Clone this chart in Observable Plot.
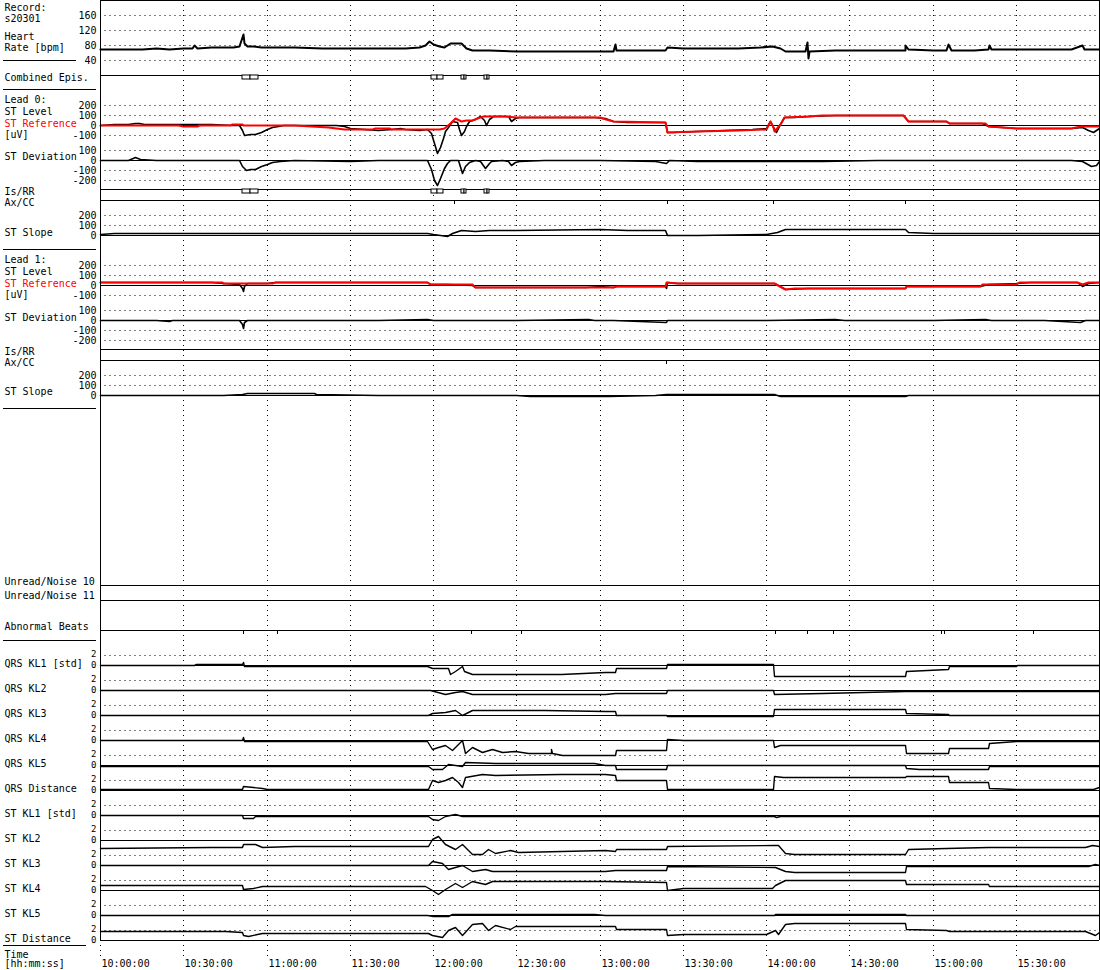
<!DOCTYPE html>
<html><head><meta charset="utf-8">
<script src="https://cdn.jsdelivr.net/npm/d3@7"></script>
<script src="https://cdn.jsdelivr.net/npm/@observablehq/plot@0.6"></script>
<style>
html,body{margin:0;padding:0;background:#fff;}
#chart{position:relative;width:1100px;height:970px;overflow:hidden;background:#fff;}
.sep{position:absolute;height:1px;background:#000;}
</style></head><body><div id="chart"></div>
<script>
// ---------------- DATA (minutes after 10:00:00, value) ----------------
const timeTicks = [0,30,60,90,120,150,180,210,240,270,300,330];
const timeLabels = ["10:00:00","10:30:00","11:00:00","11:30:00","12:00:00","12:30:00","13:00:00","13:30:00","14:00:00","14:30:00","15:00:00","15:30:00"];

const hr = [[0,70],[5,69],[10,70],[15,70],[20,71],[25,70],[30,71],[33,72],[34,80],[35,72],[40,73],[45,74],[48,73],[50,76],[51.4,109],[52,85],[53,78],[55,76],[58,74],[62,73],[70,73],[80,72],[90,71],[100,72],[110,72],[115,74],[117,80],[118.5,90],[120,82],[122,78],[124,75],[126,86],[128,86],[130,84],[132,72],[134,66],[140,65],[150,64],[160,64],[170,64],[180,63],[185,64],[185.6,82],[186,66],[195,65],[203.5,65],[204.2,73],[210,71],[220,71],[230,71],[238,73],[242,78],[245,72],[247,64],[254,64],[254.8,88],[255,44],[255.5,64],[265,65],[275,65],[285,66],[290,66],[290.2,80],[291,68],[300,67],[305,67],[305.7,83],[306.5,66],[315,67],[320,68],[320.2,79],[321,68],[330,69],[340,69],[350,69],[353.7,79],[354.5,70],[360,70]];

const stLevel0 = [[0,5],[5,8],[10,15],[12.5,25],[14,20],[16,10],[20,12],[30,10],[40,8],[48,5],[50,0],[51.3,-50],[52,-95],[54,-85],[56,-90],[58,-70],[60,-40],[62,-20],[64,-10],[66,0],[75,0],[85,0],[88,-10],[90,-25],[95,-40],[100,-45],[105,-40],[108,-25],[110,-35],[115,-45],[118,-40],[119.3,-80],[120.5,-180],[121.5,-275],[122.5,-220],[123.5,-130],[124.5,-60],[125.5,-20],[127,40],[128.5,30],[129.5,-40],[130.2,-100],[131,-60],[132,-10],[133,40],[135,60],[137,90],[138.5,50],[139.2,0],[140,60],[141.5,90],[143,95],[147,95],[148.2,45],[149.5,70],[151,85],[160,85],[170,80],[178,78],[182,70],[185,40],[190,35],[200,35],[203.5,35],[204.2,-70],[206,-65],[215,-60],[225,-50],[235,-40],[240,-30],[241.5,45],[242.5,-20],[243.5,-70],[245,10],[246.5,85],[250,85],[255,95],[265,97],[280,97],[289.5,97],[291,45],[300,38],[305,38],[306,20],[318,18],[320,-5],[330,-25],[350,-25],[354,-15],[356,-50],[358,-70],[360,-30]];
const stRef0 = [[0,0],[28,0],[30,-8],[35,-8],[35.5,0],[47,0],[47.5,10],[51,10],[51.5,0],[70,0],[76,-5],[82,-20],[88,-35],[98,-40],[99,-25],[104,-25],[105,-40],[119,-40],[122,-40],[124,-30],[126,20],[128,68],[130,45],[132,55],[134,55],[136,70],[138,90],[142,95],[146,95],[150,80],[180,80],[181,70],[185,38],[203.5,33],[204.2,-68],[215,-60],[230,-45],[240,-35],[241.5,45],[242.5,-20],[243,-60],[245,10],[246.5,83],[255,90],[260,97],[289.5,97],[291,42],[305,38],[306,20],[319,18],[320,-8],[330,-25],[350,-25],[353,-5],[360,-5]];
const stDev0 = [[0,0],[10,0],[12.5,30],[14.5,10],[20,5],[40,0],[50,0],[51.3,-60],[52.5,-98],[54,-90],[56,-85],[58,-55],[60,-40],[62,-20],[65,-5],[70,0],[90,-5],[100,0],[110,0],[118,0],[119.3,-90],[120.5,-200],[121.5,-245],[122.5,-180],[124,-80],[125,-30],[126,0],[129,0],[130.3,-133],[131.5,-60],[133,-20],[135,0],[137,-5],[138.8,-80],[140,-30],[141,-10],[145,0],[147,-10],[148.2,-45],[149.5,-20],[151,-5],[160,0],[180,0],[200,-5],[204,-25],[205,0],[215,-10],[240,-5],[250,-10],[260,-5],[280,0],[300,0],[340,0],[350,0],[354,-5],[357,-60],[359,-45],[360,-10]];
const stSlope0 = [[0,10],[5,20],[60,20],[100,20],[118,20],[120,10],[125,-5],[127,20],[130,50],[135,45],[140,50],[150,55],[180,60],[190,55],[203.5,55],[204.2,5],[215,5],[240,10],[244,35],[247,65],[290,65],[291,30],[300,20],[360,20]];

const stLevel1 = [[0,35],[10,33],[20,35],[30,28],[40,30],[44.5,18],[50,15],[51,-30],[51.5,-63],[52,-10],[53,18],[60,20],[63,35],[70,32],[80,30],[90,25],[100,30],[110,30],[118,35],[119,15],[125,15],[134,5],[135,-15],[150,-18],[160,-15],[170,-20],[175,-15],[180,-5],[185,-15],[186,-5],[200,-5],[203.5,-10],[203.8,-25],[204.2,35],[208,22],[220,22],[230,18],[240,18],[243,20],[247,-35],[255,-30],[260,-25],[270,-28],[280,-30],[290,-30],[290.5,-5],[300,-5],[317,-5],[320,10],[330,22],[335,28],[345,25],[352,25],[354,-10],[356,20],[360,25]];
const stRef1 = [[0,27],[44,27],[44.5,17],[62,17],[63,30],[118,30],[119,10],[134,10],[135,-20],[185,-20],[186,-7],[203.5,-7],[204,33],[208,20],[243,20],[247,-35],[250,-30],[290,-30],[290.5,-7],[317,-7],[318,10],[330,15],[331,27],[352,27],[354,10],[356,27],[360,27]];
const stDev1 = [[0,5],[20,5],[25,-10],[26,5],[40,0],[50,0],[51,-40],[51.5,-77],[52,-20],[53,0],[60,5],[100,3],[118,10],[120,0],[150,0],[176,15],[178,0],[185,0],[203.8,-15],[204.5,0],[240,0],[265,15],[268,0],[300,0],[319,12],[321,0],[340,0],[353,-20],[355,0],[360,0]];
const stSlope1 = [[0,5],[44.5,5],[51,10],[53,20],[77,20],[78,8],[100,5],[150,0],[155,-7],[183,-7],[200,-3],[204,10],[243,10],[245,-7],[290,-7],[291,3],[360,5]];

const qrsKL1 = [[0,0],[34,0],[34.5,0.2],[51,0.2],[51.5,0.6],[52,-0.2],[118,-0.2],[119.5,-0.5],[125.5,-0.5],[126.1,-1.7],[127.9,-1.2],[130.3,-0.3],[131,-1.2],[133.9,-1.8],[142.3,-1.7],[166,-1.7],[182,-1.3],[185.6,-1.3],[186,-0.5],[204,-0.5],[204.3,0.2],[242.6,0.2],[242.9,-2.2],[290,-2.2],[290.3,-1.1],[305.5,-0.8],[305.8,-0.3],[330,-0.3],[330.5,0],[360,0]];
const qrsKL2 = [[0,0],[119,0],[124.3,-0.7],[128,-0.4],[130.3,-0.3],[133.9,-0.7],[182,-0.7],[185.6,-0.5],[204,-0.5],[204.3,0],[242.6,0],[242.9,-0.7],[260,-0.5],[290,-0.3],[290.3,-0.1],[360,-0.1]];
const qrsKL3 = [[0,0],[118.3,0],[119.5,0.5],[124.3,0.6],[127.9,1.0],[130.3,0.1],[133.9,1.0],[160,1.0],[182,0.8],[185.6,0.8],[186,0.1],[204,0.1],[204.3,-0.1],[242.6,-0.1],[242.9,1.3],[290,1.3],[290.3,0.4],[305.7,0.3],[306,0.1],[330,0.1],[331,0],[360,0]];
const qrsKL4 = [[0,0],[51,0],[51.5,0.7],[52,-0.3],[118,-0.3],[119.5,-1.7],[121.9,-1.3],[124.3,-1.0],[126.7,-2.0],[129.1,-0.7],[130.3,0],[131.5,-2.7],[133.9,-1.3],[137.5,-2.3],[141.1,-1.8],[144.7,-2.4],[149.5,-2.2],[154.3,-2.7],[162.5,-2.7],[162.7,-1.7],[163,-2.7],[166.4,-2.9],[185.6,-2.9],[186,-2.0],[204,-2.0],[204.3,0.3],[210,0.1],[242.6,0],[242.9,-1.3],[245,-1.0],[290,-1.0],[290.3,-2.7],[305.5,-2.7],[305.8,-1.5],[320,-1.5],[320.3,-0.5],[330,-0.2],[360,-0.2]];
const qrsKL5 = [[0,-0.1],[118.3,-0.1],[119.5,-0.8],[123.1,-0.8],[125.5,0.3],[130.3,-0.3],[131.5,0.7],[142.3,0.5],[178,0.5],[182,0.1],[185.6,0.1],[186,-0.8],[204,-0.8],[204.3,0],[290,0],[290.3,-0.5],[295,-0.7],[320,-0.7],[320.3,-0.1],[360,-0.1]];
const qrsDist = [[0,0.3],[51,0.3],[51.7,0.9],[58.3,0.5],[60,0.3],[118.3,0.3],[119.5,2.0],[121.9,1.7],[124.3,2.0],[126.7,2.7],[129.1,1.7],[130.3,0.7],[131.5,2.7],[137.5,3.3],[142.3,3.1],[166,3.2],[182,3.3],[185.6,3.0],[186,2.0],[204,2.0],[204.3,0.3],[242.6,0.3],[242.9,2.8],[246,2.7],[290,2.7],[290.3,2.9],[305.5,2.9],[305.8,1.7],[320,1.7],[320.3,0.5],[330,0.2],[358,0.2],[360,0.6]];
const stKL1 = [[0,0],[51,0],[51.5,-0.5],[55,-0.5],[56,-0.1],[118.3,-0.1],[119.5,-0.7],[121.9,-1.0],[124.3,-0.3],[127.9,0.2],[130.3,-0.1],[243,-0.1],[243.5,-0.4],[245,-0.1],[360,-0.1]];
const stKL2 = [[0,-1.5],[40,-1.4],[51,-1.3],[51.7,-0.7],[55.9,-0.8],[58.3,-1.3],[70,-1.2],[118.3,-1.2],[119.5,0.3],[121.9,0.9],[124.3,-0.7],[127.9,-1.8],[130.3,-0.8],[133.9,-2.7],[137.5,-2.7],[139.9,-1.7],[142.3,-2.5],[147.7,-2.0],[150.7,-2.3],[182,-2.1],[185.6,-2.2],[186,-1.7],[204,-1.7],[204.3,-1.1],[243,-1.0],[244.4,-1.0],[246.8,-2.5],[250,-2.7],[290,-2.7],[291,-1.8],[305,-1.6],[320,-1.4],[355,-1.3],[357.3,-0.9],[360,-1.1]];
const stKL3 = [[0,0],[51,0],[51.7,0.1],[58,0.1],[60,0],[118.3,0],[119.5,0.8],[123.1,0.5],[125.5,-0.7],[130.3,0.1],[133.9,-1.1],[138.7,-0.7],[141.1,-1.1],[182,-1.1],[185.6,-0.9],[204,-0.9],[204.3,-0.2],[243.2,-0.4],[246.8,-1.2],[250,-1.3],[290,-1.3],[290.3,-0.2],[356,-0.2],[358.4,0.2],[360,0.1]];
const stKL4 = [[0,1.0],[51,1.0],[51.7,0.3],[55,0.4],[58.3,0.8],[117.1,0.8],[119.5,0],[121.9,-0.7],[124.3,0.3],[127.9,1.5],[130.3,0.7],[133.9,1.8],[138.7,1.3],[141.1,1.9],[182,1.8],[204,1.7],[204.3,0.1],[210,0.5],[242,0.5],[243.2,1.1],[246.8,2.0],[290,2.0],[290.3,1.3],[320,1.3],[320.3,0.8],[360,0.8]];
const stKL5 = [[0,0],[118,0],[120,-0.1],[125.5,-0.1],[126.7,0.2],[178,0.2],[182,0],[242.8,0],[243.2,0.3],[290,0.3],[290.3,0],[360,0]];
const stDist = [[0,1.8],[20,1.8],[30,1.9],[45,1.8],[51,1.6],[51.7,1.0],[53.5,0.9],[58.3,1.5],[80,1.5],[100,1.4],[118.3,1.5],[119.5,1.0],[123.1,0.7],[125.5,2.0],[127.9,2.7],[130.3,1.0],[133.9,3.3],[137.5,3.4],[139.9,2.0],[142.3,3.0],[147.7,2.3],[149.5,2.9],[182,2.9],[185.6,2.8],[186,2.2],[204,2.2],[204.3,1.0],[210,1.3],[240,1.3],[243.2,2.0],[244.4,1.3],[246.8,3.3],[250,3.5],[290,3.5],[290.3,2.3],[305,2.1],[306,1.8],[355,1.8],[358.4,1.1],[360,1.7]];

// episodes: [start, extremum, end] in minutes
const episodes = [[51.3,53.9,56.9],[119.3,121.6,123.7],[130.1,131.1,132.0],[138.4,139.4,140.3]];
const axShift0 = [127.4,204.2,242.6,290.2];
const axShift1 = [204.0];
const abnormalBeats = [51.4,63.8,133.6,151.6,243.2,254.9,264.3,302.9,304.1,336.3];

const klNames = ["QRS KL1 [std]","QRS KL2","QRS KL3","QRS KL4","QRS KL5","QRS Distance","ST KL1 [std]","ST KL2","ST KL3","ST KL4","ST KL5","ST Distance"];
const klSeries = [qrsKL1,qrsKL2,qrsKL3,qrsKL4,qrsKL5,qrsDist,stKL1,stKL2,stKL3,stKL4,stKL5,stDist];

// ---------------- LAYOUT ----------------
const FONT = "DejaVu Sans Mono";
const RED = "#ff0000";
const chart = document.getElementById("chart");
const xScale = {domain: [0, 360], range: [100, 1099], round: true, axis: null};
const dotted = {stroke: "black", strokeDasharray: "1,4", strokeDashoffset: 0.5, strokeWidth: 1};

function overlay(y, marks) {
  const svg = Plot.plot({
    width: 1100, height: 970, marginLeft: 100, marginRight: 1, marginTop: 0, marginBottom: 0,
    x: xScale, y: {...y, axis: null},
    style: "position:absolute;left:0;top:0;background:transparent;overflow:visible;font-family:'DejaVu Sans Mono';font-size:10px;",
    marks
  });
  chart.appendChild(svg);
}
function tickText(ticks, extra = {}) {
  return Plot.text(ticks, {y: d => d, text: d => String(d), frameAnchor: "left", dx: -4, textAnchor: "end",
    fill: "black", fontFamily: FONT, fontSize: 10, ...extra});
}
const P = d => d[0], V = d => d[1];

function panel({zero, pxPerUnit, grid, solid, ticks, lines}) {
  overlay({domain: [0, 1], range: [zero, zero - pxPerUnit], round: true}, [
    Plot.ruleY(grid, dotted),
    Plot.ruleY(solid, {stroke: "black", strokeWidth: 1}),
    ...lines.map(l => Plot.line(l.data, {x: P, y: V, stroke: l.color || "black", strokeWidth: l.w || 1.4})),
    tickText(ticks)
  ]);
}

// Heart rate
panel({zero: 75, pxPerUnit: 0.3775, grid: [40,80,120,160], solid: [0], ticks: [160,120,80,40], lines: [{data: hr, w: 2}]});
// Leads
[[0, stLevel0, stRef0, stDev0, stSlope0], [160, stLevel1, stRef1, stDev1, stSlope1]].forEach(([off, lev, ref, dev, slo]) => {
  panel({zero: 125 + off, pxPerUnit: 0.1, grid: [200,100,-100], solid: [0], ticks: [200,100,0,-100],
    lines: [{data: lev, w: 1.6}, {data: ref, color: RED, w: 2}]});
  panel({zero: 160 + off, pxPerUnit: 0.1, grid: [100,-100,-200], solid: [0], ticks: [100,0,-100,-200], lines: [{data: dev, w: 1.6}]});
  panel({zero: 235 + off, pxPerUnit: 0.1, grid: [200,100], solid: [0], ticks: [200,100,0], lines: [{data: slo, w: 1.6}]});
});
// KL panels
klSeries.forEach((s, k) => {
  const zero = 665 + 25 * k;
  overlay({domain: [0, 2], range: [zero, zero - 10], round: true}, [
    Plot.ruleY([2], dotted),
    Plot.ruleY([0], {stroke: "black"}),
    Plot.line(s, {x: P, y: V, stroke: "black", strokeWidth: 1.4}),
    tickText([2], {dy: -1, fontSize: 9}),
    tickText([0], {dy: 0, fontSize: 9})
  ]);
});

// Frame overlay (pixel rows)
const halves = episodes.flatMap(e => [[e[0], e[1]], [e[1], e[2]]]);
const leftLabels = [
  ["Record:",10],["s20301",21],["Heart",39.5],["Rate [bpm]",50.5],["Combined Epis.",80],
  ["Lead 0:",102],["ST Level",114],["ST Reference",126,RED],["[uV]",137],["ST Deviation",159],
  ["Is/RR",194],["Ax/CC",205],["ST Slope",235],
  ["Lead 1:",262],["ST Level",274],["ST Reference",286,RED],["[uV]",297],["ST Deviation",320],
  ["Is/RR",354],["Ax/CC",365],["ST Slope",394],
  ["Unread/Noise 10",584],["Unread/Noise 11",598],["Abnormal Beats",629],
  ...klNames.map((n, k) => [n, 666 + 25 * k]),
  ["Time",957],["[hh:mm:ss]",966]
];
overlay({domain: [0, 970], range: [0, 970]}, [
  Plot.ruleX(timeTicks, {x: d => d, y1: 0, y2: 957, stroke: "black", strokeDasharray: "1,4"}),
  Plot.ruleX([0, 360], {x: d => d, y1: 0, y2: 940, stroke: "black"}),
  Plot.ruleY([0, 189, 200, 349, 360, 585, 600, 630, 940], {y: d => d, stroke: "black"}),
  Plot.rect(halves, {x1: d => d[0], x2: d => d[1], y1: 75, y2: 79, fill: "white", stroke: "black"}),
  Plot.rect(halves, {x1: d => d[0], x2: d => d[1], y1: 189, y2: 193, fill: "white", stroke: "black"}),
  Plot.ruleX(axShift0, {x: d => d, y1: 200, y2: 204, stroke: "black"}),
  Plot.ruleX(axShift1, {x: d => d, y1: 360, y2: 364, stroke: "black"}),
  Plot.ruleX(abnormalBeats, {x: d => d, y1: 630, y2: 634, stroke: "black"}),
  Plot.text(timeTicks, {x: d => d, text: (d, i) => timeLabels[i], frameAnchor: "bottom", dy: -4, dx: 1,
    lineAnchor: "bottom", textAnchor: "start", fill: "black", fontFamily: FONT, fontSize: 10}),
  Plot.text(leftLabels, {y: d => d[1], text: d => d[0], frameAnchor: "left", dx: -96, textAnchor: "start",
    lineAnchor: "bottom", fill: d => d[2] || "black", fontFamily: FONT, fontSize: 10})
]);

// left column separators
[[60,3,76],[89,3,96],[249,3,96],[408,3,96],[640,3,96],[945,3,86]].forEach(([y, a, b]) => {
  const d = document.createElement("div");
  d.className = "sep";
  d.style.top = y + "px"; d.style.left = a + "px"; d.style.width = (b - a) + "px";
  chart.appendChild(d);
});
</script></body></html>
